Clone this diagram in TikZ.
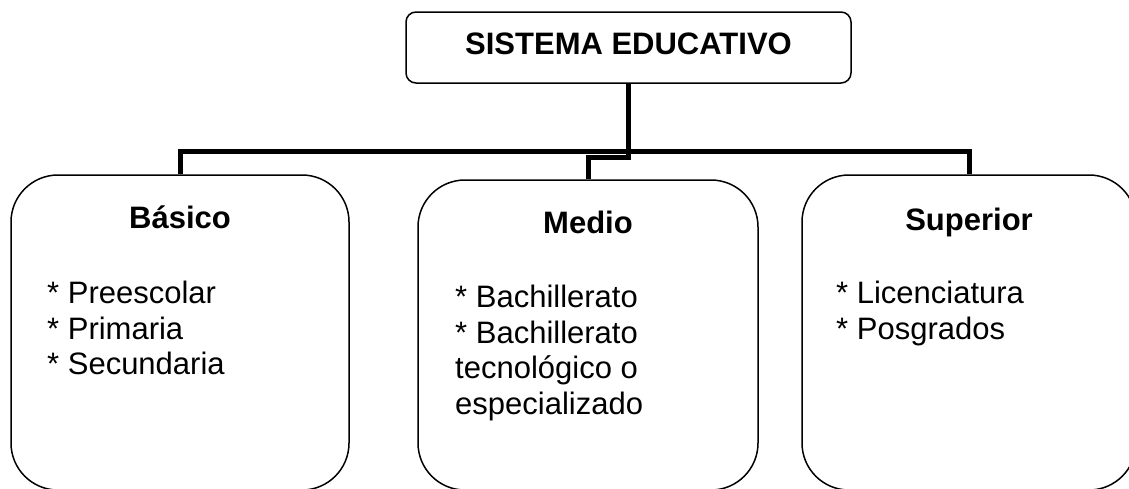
\documentclass[tikz,border=0pt]{standalone}
\usepackage{fontspec}
\setmainfont{Liberation Sans}
\newcommand{\TextoG}{\fontsize{31}{35.7}\selectfont}

\begin{document}
\begin{tikzpicture}[x=1pt,y=-1pt]
	\tikzstyle{titulo} = [draw, line width=1.5pt, rounded corners=10pt, inner sep=0pt,
		minimum width=445pt, minimum height=71pt, text depth=7pt, font=\TextoG\bfseries]
	\tikzstyle{nivel} = [draw, line width=1.5pt, rounded corners=47pt, inner sep=0pt]
	\tikzstyle{cabeza} = [anchor=base, inner sep=0pt, font=\TextoG\bfseries]
	\tikzstyle{lista} = [anchor=north west, inner sep=0pt, align=left, font=\TextoG]
	\tikzstyle{bus} = [draw, line width=5pt]

	\clip (0,0) rectangle (1129,488);

	\node(sistema)[titulo] at (628.5,47.5){SISTEMA EDUCATIVO};

	% niveles
	\node(basico)[nivel, minimum width=338pt, minimum height=315pt] at (180,332.5){};
	\node(medio)[nivel, minimum width=340pt, minimum height=310pt] at (588,335){};
	\node(superior)[nivel, minimum width=334pt, minimum height=315pt] at (969,332.5){};

	\node(basicoT)[cabeza] at (180,228){Básico};
	\node(medioT)[cabeza] at (588,233){Medio};
	\node(superiorT)[cabeza] at (969,230){Superior};

	\node(basicoL)[lista] at (47,280.8){* Preescolar\\* Primaria\\* Secundaria};
	\node(medioL)[lista] at (455,284.8){* Bachillerato\\* Bachillerato\\tecnológico o\\especializado};
	\node(superiorL)[lista] at (836,280.8){* Licenciatura\\* Posgrados};

	% lineas
	\draw[bus] (basico.north) -- ++(0,-23) -| (superior.north);
	\draw[bus] (sistema.south) -- ++(0,74) -| (medio.north);

\end{tikzpicture}
\end{document}
